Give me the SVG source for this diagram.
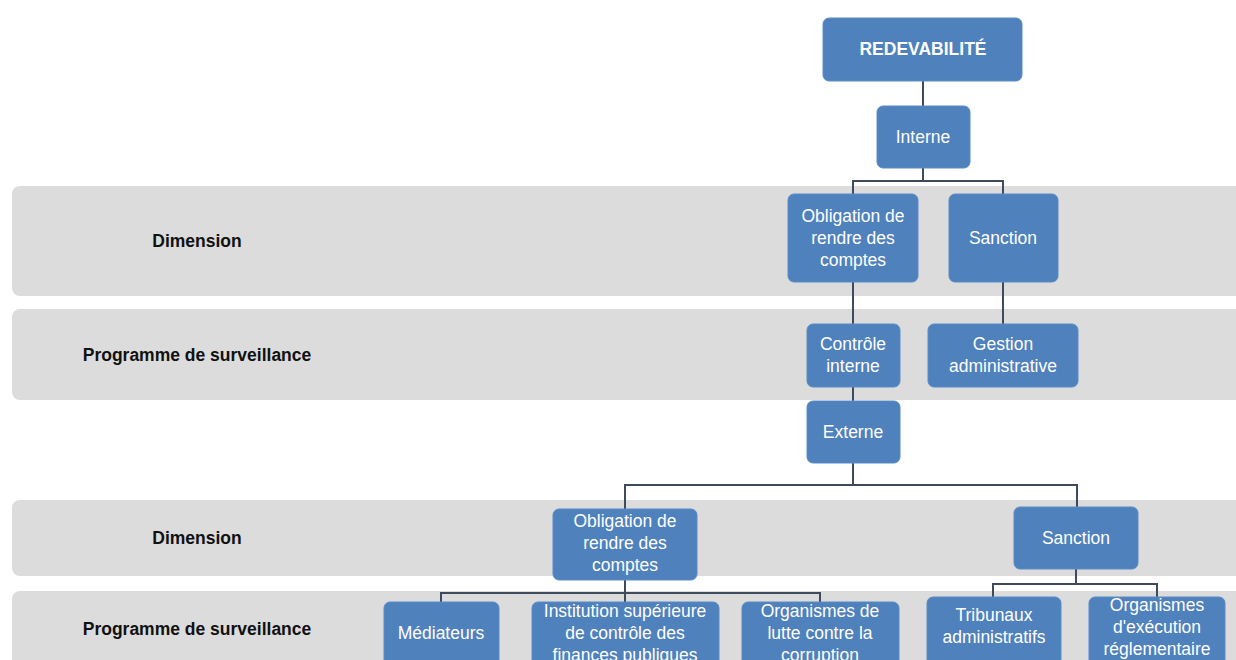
<svg xmlns="http://www.w3.org/2000/svg" width="1236" height="660" viewBox="0 0 1236 660">
<style>
.band{fill:#dcdcdc}
.lbl{font-family:"Liberation Sans",Arial,sans-serif;font-weight:bold;font-size:17.5px;fill:#111;text-anchor:middle}
.box{fill:#4f81bd;stroke:#5b8cc6;stroke-width:1}
.t{font-family:"Liberation Sans",Arial,sans-serif;font-size:17.5px;fill:#fff;text-anchor:middle}
.tb{font-family:"Liberation Sans",Arial,sans-serif;font-size:17.5px;font-weight:bold;fill:#fff;text-anchor:middle}
.c{fill:none;stroke:#3d4b5c;stroke-width:2}
</style>
<g id="bands">
<rect class="band" x="12" y="186" width="1250" height="110" rx="8"/>
<rect class="band" x="12" y="309" width="1250" height="91" rx="8"/>
<rect class="band" x="12" y="500" width="1250" height="76" rx="8"/>
<rect class="band" x="12" y="591" width="1250" height="90" rx="8"/>
<text class="lbl" x="197" y="247">Dimension</text>
<text class="lbl" x="197" y="361">Programme de surveillance</text>
<text class="lbl" x="197" y="544">Dimension</text>
<text class="lbl" x="197" y="635">Programme de surveillance</text>
</g>
<g id="connectors">
<path class="c" d="M923 81V106"/>
<path class="c" d="M923 168V181H853V194M923 181H1003V194"/>
<path class="c" d="M853 282V324"/>
<path class="c" d="M1003 282V324"/>
<path class="c" d="M853 387V401"/>
<path class="c" d="M853 463V485H625V509M853 485H1077V507"/>
<path class="c" d="M625 580V593H441V606M625 593H820V606M625 593V606"/>
<path class="c" d="M1076 569V584H993V597M1076 584H1157V597"/>
</g>
<g id="redevabilite"><rect class="box" x="823" y="18" width="199" height="63" rx="6"/><text class="tb" x="923" y="55">REDEVABILITÉ</text></g>
<g id="interne"><rect class="box" x="877" y="106" width="93" height="62" rx="6"/><text class="t" x="923" y="143">Interne</text></g>
<g id="obligation1"><rect class="box" x="788" y="194" width="130" height="88" rx="6"/><text class="t" x="853" y="222">Obligation de</text><text class="t" x="853" y="244">rendre des</text><text class="t" x="853" y="266">comptes</text></g>
<g id="sanction1"><rect class="box" x="949" y="194" width="109" height="88" rx="6"/><text class="t" x="1003" y="244">Sanction</text></g>
<g id="controle"><rect class="box" x="807" y="324" width="93" height="63" rx="6"/><text class="t" x="853" y="350">Contrôle</text><text class="t" x="853" y="372">interne</text></g>
<g id="gestion"><rect class="box" x="928" y="324" width="150" height="63" rx="6"/><text class="t" x="1003" y="350">Gestion</text><text class="t" x="1003" y="372">administrative</text></g>
<g id="externe"><rect class="box" x="807" y="401" width="93" height="62" rx="6"/><text class="t" x="853" y="438">Externe</text></g>
<g id="obligation2"><rect class="box" x="553" y="509" width="144" height="71" rx="6"/><text class="t" x="625" y="527">Obligation de</text><text class="t" x="625" y="549">rendre des</text><text class="t" x="625" y="571">comptes</text></g>
<g id="sanction2"><rect class="box" x="1014" y="507" width="124" height="62" rx="6"/><text class="t" x="1076" y="544">Sanction</text></g>
<g id="mediateurs"><rect class="box" x="384" y="602" width="115" height="80" rx="6"/><text class="t" x="441" y="639">Médiateurs</text></g>
<g id="institution"><rect class="box" x="532" y="602" width="187" height="80" rx="6"/><text class="t" x="625" y="617">Institution supérieure</text><text class="t" x="625" y="639">de contrôle des</text><text class="t" x="625" y="661">finances publiques</text></g>
<g id="organismes-lutte"><rect class="box" x="742" y="602" width="157" height="80" rx="6"/><text class="t" x="820" y="617">Organismes de</text><text class="t" x="820" y="639">lutte contre la</text><text class="t" x="820" y="661">corruption</text></g>
<g id="tribunaux"><rect class="box" x="927" y="597" width="134" height="80" rx="6"/><text class="t" x="994" y="621">Tribunaux</text><text class="t" x="994" y="643">administratifs</text></g>
<g id="organismes-execution"><rect class="box" x="1089" y="597" width="136" height="80" rx="6"/><text class="t" x="1157" y="611">Organismes</text><text class="t" x="1157" y="633">d'exécution</text><text class="t" x="1157" y="655">réglementaire</text></g>
</svg>
